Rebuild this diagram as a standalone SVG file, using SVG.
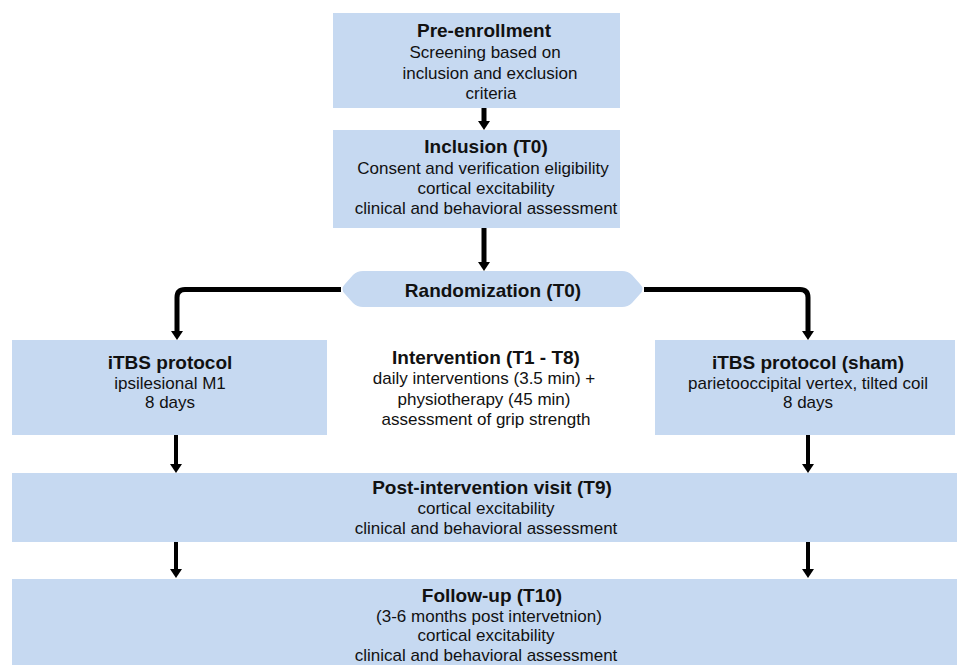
<svg xmlns="http://www.w3.org/2000/svg" width="957" height="665" viewBox="0 0 957 665">
<defs>
<marker id="ah" viewBox="0 0 9 12" refX="0" refY="6" markerWidth="9" markerHeight="12" markerUnits="userSpaceOnUse" orient="auto">
<path d="M0,0 L9,6 L0,12 Z" fill="#000"/>
</marker>
<style>
.box{fill:#c6d9f1;}
text{font-family:"Liberation Sans",Arial,sans-serif;fill:#111;text-anchor:middle;}
.t{font-size:19px;font-weight:bold;}
.b{font-size:17px;}
.c{fill:none;stroke:#000;stroke-width:5;marker-end:url(#ah);}
.c4{fill:none;stroke:#000;stroke-width:4;marker-end:url(#ah);}
</style>
</defs>
<rect width="957" height="665" fill="#fff"/>
<g id="connectors">
<path class="c" d="M484,108 V121"/>
<path class="c" d="M484,228 V262"/>
<path class="c" d="M341,289.5 H185 Q177,289.5 177,297.5 V331"/>
<path class="c" d="M644,289.5 H800 Q808,289.5 808,297.5 V331"/>
<path class="c4" d="M176,435 V464"/>
<path class="c4" d="M808,435 V464"/>
<path class="c4" d="M176,542 V569"/>
<path class="c4" d="M808,542 V569"/>
</g>
<g id="pre-enrollment">
<rect class="box" x="333" y="13" width="287" height="95"/>
<text class="t" x="484" y="37">Pre-enrollment</text>
<text class="b" x="485" y="58">Screening based on</text>
<text class="b" x="490" y="79">inclusion and exclusion</text>
<text class="b" x="491" y="99">criteria</text>
</g>
<g id="inclusion">
<rect class="box" x="333" y="130" width="287" height="98"/>
<text class="t" x="486" y="153">Inclusion (T0)</text>
<text class="b" x="483" y="174">Consent and verification eligibility</text>
<text class="b" x="486" y="194">cortical excitability</text>
<text class="b" x="486" y="214">clinical and behavioral assessment</text>
</g>
<g id="randomization">
<path class="box" d="M345,284 L353,275 Q357,271 363,271 L622,271 Q628,271 632,275 L640,284 Q645,289 640,294 L632,303 Q628,307 622,307 L363,307 Q357,307 353,303 L345,294 Q340,289 345,284 Z"/>
<text class="t" x="493" y="297">Randomization (T0)</text>
</g>
<g id="itbs">
<rect class="box" x="12" y="340" width="315" height="95"/>
<text class="t" x="170" y="369">iTBS protocol</text>
<text class="b" x="170" y="389">ipsilesional M1</text>
<text class="b" x="170" y="408">8 days</text>
</g>
<g id="intervention">
<text class="t" x="486" y="364">Intervention (T1 - T8)</text>
<text class="b" x="484" y="384">daily interventions (3.5 min) +</text>
<text class="b" x="484" y="405">physiotherapy (45 min)</text>
<text class="b" x="486" y="425">assessment of grip strength</text>
</g>
<g id="sham">
<rect class="box" x="655" y="340" width="300" height="95"/>
<text class="t" x="808" y="369">iTBS protocol (sham)</text>
<text class="b" x="808" y="389">parietooccipital vertex, tilted coil</text>
<text class="b" x="808" y="408">8 days</text>
</g>
<g id="post-intervention">
<rect class="box" x="12" y="473" width="945" height="69"/>
<text class="t" x="492" y="494">Post-intervention visit (T9)</text>
<text class="b" x="486" y="514">cortical excitability</text>
<text class="b" x="486" y="534">clinical and behavioral assessment</text>
</g>
<g id="follow-up">
<rect class="box" x="12" y="579" width="945" height="86"/>
<text class="t" x="492" y="602">Follow-up (T10)</text>
<text class="b" x="489" y="622">(3-6 months post intervetnion)</text>
<text class="b" x="486" y="641">cortical excitability</text>
<text class="b" x="486" y="661">clinical and behavioral assessment</text>
</g>
</svg>
